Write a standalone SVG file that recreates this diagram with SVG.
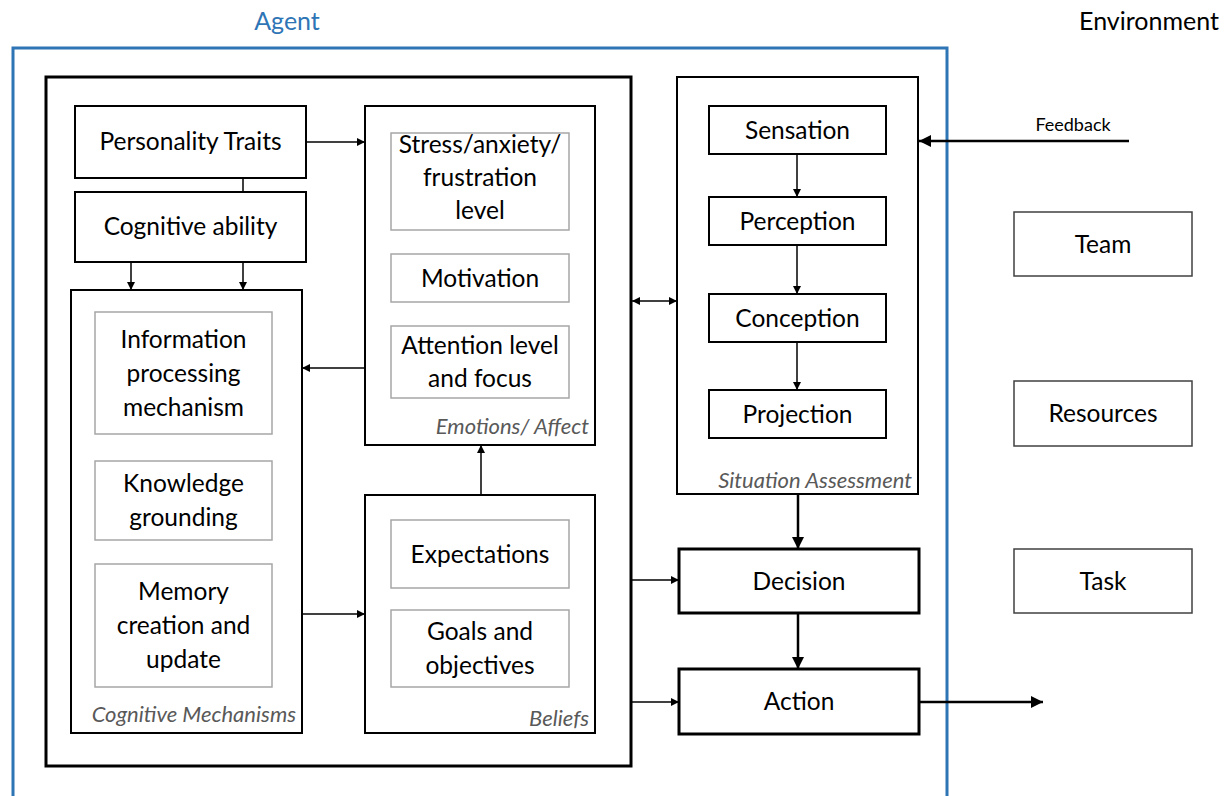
<svg xmlns="http://www.w3.org/2000/svg" width="1229" height="796" viewBox="0 0 1229 796">
<defs>
<style>
text{font-family:Lato,"Open Sans","Liberation Sans",sans-serif;font-size:24.5px;fill:#000;text-anchor:middle}
.lab{font-style:italic;fill:#595959;font-size:22px;text-anchor:end}
.box{fill:#fff;stroke:#000;stroke-width:2}
.thick{fill:#fff;stroke:#000;stroke-width:3}
.inner{fill:#fff;stroke:#a6a6a6;stroke-width:1.5}
.env{fill:#fff;stroke:#404040;stroke-width:1.5}
.ln{stroke:#000;stroke-width:1.5;fill:none}
.tk{stroke:#000;stroke-width:2.5;fill:none}
</style>
<marker id="ah" viewBox="0 0 10 10" refX="10" refY="5" markerWidth="9" markerHeight="8" markerUnits="userSpaceOnUse" orient="auto-start-reverse"><path d="M0,0 L10,5 L0,10 z" fill="#000"/></marker>
<marker id="ahb" viewBox="0 0 10 10" refX="10" refY="5" markerWidth="12" markerHeight="12" markerUnits="userSpaceOnUse" orient="auto-start-reverse"><path d="M0,0 L10,5 L0,10 z" fill="#000"/></marker>
</defs>

<g id="agent">
<rect x="13" y="48" width="934" height="760" fill="none" stroke="#2e75b6" stroke-width="3"/>
<text x="287" y="30" style="fill:#2e75b6;font-size:25px">Agent</text>
</g>
<g id="environment-title"><text x="1149" y="30" style="font-size:25px">Environment</text></g>

<g id="inner-agent"><rect class="thick" x="46" y="77" width="585" height="689"/></g>

<g id="personality"><rect class="box" x="75" y="106" width="231" height="72"/><text x="190.5" y="150">Personality Traits</text></g>
<g id="cognitive-ability"><rect class="box" x="75" y="192" width="231" height="70"/><text x="190.5" y="235">Cognitive ability</text></g>

<g id="cognitive-mechanisms">
<rect class="box" x="71" y="290" width="231" height="443"/>
<rect class="inner" x="95" y="312" width="177" height="122"/>
<text x="183.5" y="348">Information</text><text x="183.5" y="382">processing</text><text x="183.5" y="416">mechanism</text>
<rect class="inner" x="95" y="461" width="177" height="79"/>
<text x="183.5" y="492">Knowledge</text><text x="183.5" y="526">grounding</text>
<rect class="inner" x="95" y="564" width="177" height="123"/>
<text x="183.5" y="600">Memory</text><text x="183.5" y="634">creation and</text><text x="183.5" y="668">update</text>
<text class="lab" x="296" y="722">Cognitive Mechanisms</text>
</g>

<g id="emotions">
<rect class="box" x="365" y="106" width="230" height="339"/>
<rect class="inner" x="391" y="133" width="178" height="97"/>
<text x="480" y="153">Stress/anxiety/</text><text x="480" y="186">frustration</text><text x="480" y="219">level</text>
<rect class="inner" x="391" y="254" width="178" height="48"/>
<text x="480" y="287">Motivation</text>
<rect class="inner" x="391" y="326" width="178" height="72"/>
<text x="480" y="354">Attention level</text><text x="480" y="387">and focus</text>
<text class="lab" x="589" y="434">Emotions/ Affect</text>
</g>

<g id="beliefs">
<rect class="box" x="365" y="495" width="230" height="238"/>
<rect class="inner" x="391" y="520" width="178" height="68"/>
<text x="480" y="563">Expectations</text>
<rect class="inner" x="391" y="610" width="178" height="77"/>
<text x="480" y="640">Goals and</text><text x="480" y="674">objectives</text>
<text class="lab" x="589" y="726">Beliefs</text>
</g>

<g id="situation-assessment">
<rect class="box" x="677" y="77" width="241" height="417"/>
<rect class="box" x="709" y="106" width="177" height="48"/><text x="797.5" y="139">Sensation</text>
<rect class="box" x="709" y="197" width="177" height="48"/><text x="797.5" y="230">Perception</text>
<rect class="box" x="709" y="294" width="177" height="48"/><text x="797.5" y="327">Conception</text>
<rect class="box" x="709" y="390" width="177" height="48"/><text x="797.5" y="423">Projection</text>
<text class="lab" x="912" y="488">Situation Assessment</text>
</g>

<g id="decision"><rect class="thick" x="679" y="549" width="240" height="64"/><text x="799" y="590">Decision</text></g>
<g id="action"><rect class="thick" x="679" y="669" width="240" height="65"/><text x="799" y="710">Action</text></g>

<g id="team"><rect class="env" x="1014" y="212" width="178" height="64"/><text x="1103" y="253">Team</text></g>
<g id="resources"><rect class="env" x="1014" y="381" width="178" height="65"/><text x="1103" y="422">Resources</text></g>
<g id="task"><rect class="env" x="1014" y="549" width="178" height="64"/><text x="1103" y="590">Task</text></g>

<g id="connectors">
<line class="ln" x1="243" y1="178" x2="243" y2="192"/>
<line class="ln" x1="131" y1="262" x2="131" y2="290" marker-end="url(#ah)"/>
<line class="ln" x1="243" y1="262" x2="243" y2="290" marker-end="url(#ah)"/>
<line class="ln" x1="306" y1="142" x2="365" y2="142" marker-end="url(#ah)"/>
<line class="ln" x1="365" y1="368" x2="302" y2="368" marker-end="url(#ah)"/>
<line class="ln" x1="302" y1="614" x2="365" y2="614" marker-end="url(#ah)"/>
<line class="ln" x1="481" y1="495" x2="481" y2="445" marker-end="url(#ah)"/>
<line class="ln" x1="632" y1="301" x2="677" y2="301" marker-start="url(#ah)" marker-end="url(#ah)"/>
<line class="ln" x1="797" y1="154" x2="797" y2="197" marker-end="url(#ah)"/>
<line class="ln" x1="797" y1="245" x2="797" y2="294" marker-end="url(#ah)"/>
<line class="ln" x1="797" y1="342" x2="797" y2="390" marker-end="url(#ah)"/>
<line class="tk" x1="1129" y1="141" x2="919" y2="141" marker-end="url(#ahb)"/>
<text x="1073" y="131" style="font-size:18px">Feedback</text>
<line class="tk" x1="798" y1="494" x2="798" y2="549" marker-end="url(#ahb)"/>
<line class="tk" x1="798" y1="613" x2="798" y2="669" marker-end="url(#ahb)"/>
<line class="ln" x1="632" y1="580" x2="679" y2="580" marker-end="url(#ah)"/>
<line class="ln" x1="632" y1="702" x2="679" y2="702" marker-end="url(#ah)"/>
<line class="tk" x1="919" y1="702" x2="1043" y2="702" marker-end="url(#ahb)"/>
</g>
</svg>
